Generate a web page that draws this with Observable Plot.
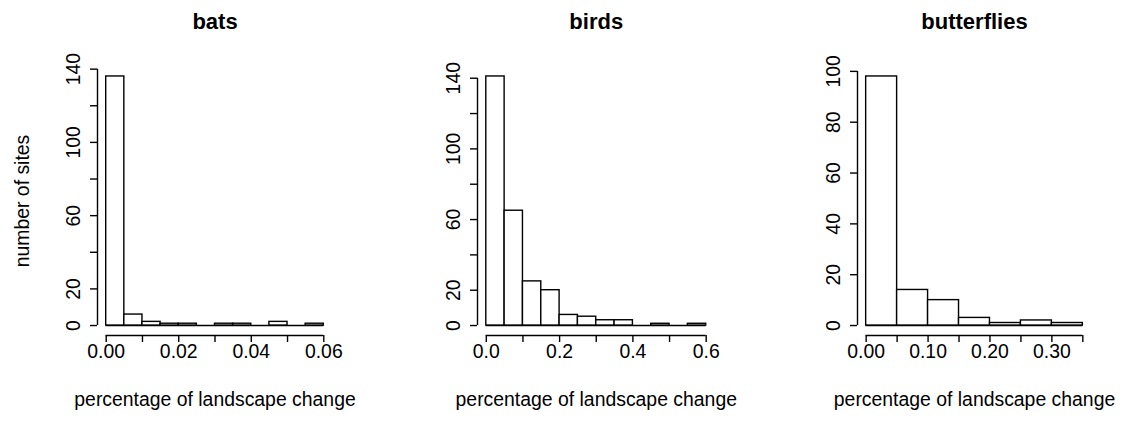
<!DOCTYPE html>
<html><head><meta charset="utf-8">
<script src="https://cdn.jsdelivr.net/npm/d3@7"></script>
<script src="https://cdn.jsdelivr.net/npm/@observablehq/plot@0.6"></script>
<style>
html,body{margin:0;padding:0;background:#fff;}
#chart{position:relative;width:1127px;height:430px;overflow:hidden;background:#fff;}
#chart > svg{position:absolute;top:0;}
</style></head><body><div id="chart"></div>
<script>
// ---- data ----
const panelTitles = ["bats", "birds", "butterflies"];
const xAxisTitle = "percentage of landscape change";
const yAxisTitle = "number of sites";

const batsBreaks = [0, 0.005, 0.01, 0.015, 0.02, 0.025, 0.03, 0.035, 0.04, 0.045, 0.05, 0.055, 0.06];
const batsCounts = [136, 6, 2, 1, 1, 0, 1, 1, 0, 2, 0, 1];
const batsXTicks = [0, 0.01, 0.02, 0.03, 0.04, 0.05, 0.06];
const batsXLabels = [0, 0.02, 0.04, 0.06];
const batsXLabelText = ["0.00", "0.02", "0.04", "0.06"];
const batsYTicks = [0, 20, 40, 60, 80, 100, 120, 140];
const batsYLabels = [0, 20, 60, 100, 140];

const birdsBreaks = [0, 0.05, 0.1, 0.15, 0.2, 0.25, 0.3, 0.35, 0.4, 0.45, 0.5, 0.55, 0.6];
const birdsCounts = [141, 65, 25, 20, 6, 5, 3, 3, 0, 1, 0, 1];
const birdsXTicks = [0, 0.1, 0.2, 0.3, 0.4, 0.5, 0.6];
const birdsXLabels = [0, 0.2, 0.4, 0.6];
const birdsXLabelText = ["0.0", "0.2", "0.4", "0.6"];
const birdsYTicks = [0, 20, 40, 60, 80, 100, 120, 140];
const birdsYLabels = [0, 20, 60, 100, 140];

const butterfliesBreaks = [0, 0.05, 0.1, 0.15, 0.2, 0.25, 0.3, 0.35];
const butterfliesCounts = [98, 14, 10, 3, 1, 2, 1];
const butterfliesXTicks = [0, 0.05, 0.1, 0.15, 0.2, 0.25, 0.3, 0.35];
const butterfliesXLabels = [0, 0.1, 0.2, 0.3];
const butterfliesXLabelText = ["0.00", "0.10", "0.20", "0.30"];
const butterfliesYTicks = [0, 20, 40, 60, 80, 100];
const butterfliesYLabels = [0, 20, 40, 60, 80, 100];

// ---- layout (pixel positions of each plot region) ----
const regions = [
  {left: 97, right: 332},
  {left: 477, right: 714.5},
  {left: 857, right: 1091}
];
const FONT = "'Liberation Sans', Arial, Helvetica, sans-serif";
const AXIS_FS = 19.4, TITLE_FS = 22;
const SW = 1.4;

function panel(p, region) {
  const ML = 95, MR = 35, MT = 66, MB = 95, H = 430;
  const rw = region.right - region.left;
  const width = rw + ML + MR;
  const bins = p.counts.map((c, i) => ({x1: p.breaks[i], x2: p.breaks[i + 1], n: c}));
  const b0 = p.breaks[0], b1 = p.breaks[p.breaks.length - 1];
  const xr = b1 - b0;
  const yMax = d3.max(p.counts);
  const xDom = [b0 - 0.04 * xr, b1 + 0.04 * xr];
  const yDom = [-0.04 * yMax, 1.04 * yMax];
  const marks = [
    Plot.ruleY([0], {x1: b0, x2: b1, stroke: "black", strokeWidth: SW}),
    Plot.rect(bins.filter(d => d.n > 0), {x1: "x1", x2: "x2", y1: 0, y2: "n", fill: "white", stroke: "black", strokeWidth: SW}),
    // axis lines
    Plot.ruleX([xDom[0]], {y1: p.yTicks[0], y2: p.yTicks[p.yTicks.length - 1], stroke: "black", strokeWidth: SW}),
    Plot.ruleY([yDom[0]], {x1: p.xTicks[0], x2: p.xTicks[p.xTicks.length - 1], stroke: "black", strokeWidth: SW}),
    Plot.axisX({ticks: p.xTicks, tickSize: 7, tickFormat: () => "", label: null, strokeWidth: SW}),
    Plot.axisY({ticks: p.yTicks, tickSize: 7, tickFormat: () => "", label: null, strokeWidth: SW}),
    Plot.text(p.xLabels, {x: d => d, text: (d, i) => p.xLabelText[i], frameAnchor: "bottom", textAnchor: "middle", dy: 22, fontSize: AXIS_FS, fill: "black"}),
    Plot.text(p.yLabels, {y: d => d, text: d => String(d), frameAnchor: "left", textAnchor: "middle", dx: -24, rotate: -90, fontSize: AXIS_FS, fill: "black"}),
    Plot.text([xAxisTitle], {frameAnchor: "bottom", textAnchor: "middle", dy: 70, text: d => d, fontSize: AXIS_FS, fill: "black"}),
    Plot.text([p.title], {frameAnchor: "top", textAnchor: "middle", dy: -53, text: d => d, fontSize: TITLE_FS, fontWeight: "bold", fill: "black"})
  ];
  if (p.yTitle) {
    marks.push(Plot.text([p.yTitle], {frameAnchor: "left", textAnchor: "middle", dx: -75, rotate: -90, text: d => d, fontSize: AXIS_FS, fill: "black"}));
  }
  const svg = Plot.plot({
    width, height: H,
    marginLeft: ML, marginRight: MR, marginTop: MT, marginBottom: MB,
    x: {domain: xDom},
    y: {domain: yDom},
    style: {fontFamily: FONT, fontSize: AXIS_FS + "px", background: "white", color: "black", overflow: "visible"},
    marks
  });
  svg.style.left = (region.left - ML) + "px";
  return svg;
}

const panels = [
  {title: panelTitles[0], breaks: batsBreaks, counts: batsCounts, xTicks: batsXTicks, xLabels: batsXLabels, xLabelText: batsXLabelText, yTicks: batsYTicks, yLabels: batsYLabels, yTitle: yAxisTitle},
  {title: panelTitles[1], breaks: birdsBreaks, counts: birdsCounts, xTicks: birdsXTicks, xLabels: birdsXLabels, xLabelText: birdsXLabelText, yTicks: birdsYTicks, yLabels: birdsYLabels, yTitle: null},
  {title: panelTitles[2], breaks: butterfliesBreaks, counts: butterfliesCounts, xTicks: butterfliesXTicks, xLabels: butterfliesXLabels, xLabelText: butterfliesXLabelText, yTicks: butterfliesYTicks, yLabels: butterfliesYLabels, yTitle: null}
];
const chart = document.getElementById("chart");
panels.forEach((p, i) => chart.appendChild(panel(p, regions[i])));
</script></body></html>
